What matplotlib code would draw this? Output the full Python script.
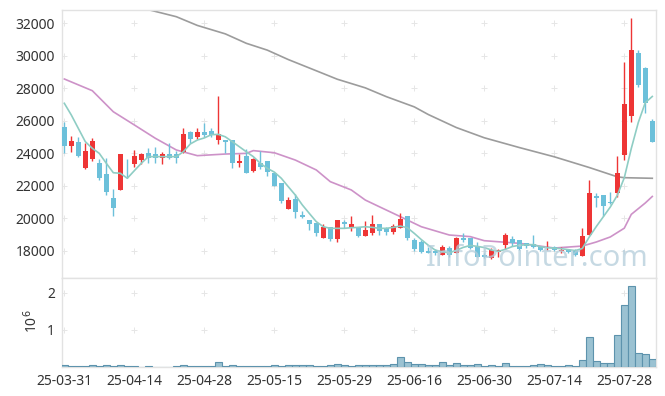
# Plotting:
import numpy as np
import matplotlib
matplotlib.use("Agg")
import matplotlib.pyplot as plt

# ===== DATA =====
tick_labels = ["25-03-31", "25-04-14", "25-04-28", "25-05-15", "25-05-29",
               "25-06-16", "25-06-30", "25-07-14", "25-07-28"]

open_ = [25600, 24470, 24700, 23120, 23640, 23430, 22730, 21260, 21750, 23410,
         23370, 23590, 24000, 23960, 23720, 23960, 23960, 24100, 25300, 24990,
         25320, 25400, 24820, 24820, 24820, 23430, 23840, 22940, 23390, 23530,
         22780, 22200, 20580, 21190, 20210, 19900, 19740, 18810, 19450, 18720,
         19800, 19390, 19390, 18940, 19090, 19640, 19390, 19180, 19390, 20150,
         18670, 18570, 18000, 18000, 17750, 18160, 17890, 18810, 18810, 18260,
         17750, 17550, 17950, 18350, 18720, 18670, 18470, 18430, 18260, 18200,
         18260, 18000, 18040, 18040, 17710, 18980, 21380, 21440, 21030, 21580,
         23900, 26300, 30160, 29230, 26010]
high = [25950, 25070, 24990, 24660, 24930, 23640, 23700, 21790, 23990, 23640,
        24210, 24000, 24310, 24410, 24100, 24620, 24160, 25580, 25380, 25540,
        25890, 25550, 27530, 24830, 24830, 23960, 24250, 23700, 24170, 23540,
        22860, 22200, 21340, 21480, 20480, 19900, 19740, 19660, 19450, 19900,
        19900, 20150, 19390, 19840, 20210, 19640, 19490, 19660, 20320, 20150,
        18780, 18700, 18260, 18100, 18370, 18300, 18830, 19090, 18810, 18570,
        17850, 18160, 18150, 19080, 18920, 18670, 18470, 18980, 18330, 18600,
        18300, 18260, 18100, 18100, 19390, 22360, 21550, 21440, 21640, 23840,
        29640, 32310, 30360, 29330, 26130]
low = [24040, 24100, 23760, 23050, 23530, 22360, 21440, 20150, 21720, 22470,
       23180, 23350, 23390, 23390, 23350, 23640, 23390, 24000, 24660, 24870,
       24990, 24990, 24580, 24040, 23080, 23140, 22800, 22840, 23020, 22610,
       22000, 20970, 20570, 20010, 20010, 19290, 18920, 18800, 18630, 18530,
       19390, 19250, 18870, 18930, 18980, 18980, 18980, 19020, 19390, 18670,
       18020, 17890, 17850, 17760, 17750, 17650, 17880, 18570, 18100, 17600,
       17560, 17500, 17600, 18100, 18300, 18050, 18160, 18170, 17990, 18080,
       18000, 17880, 17890, 17680, 17700, 18960, 20680, 20150, 20890, 21340,
       23590, 25950, 28060, 26470, 24720]
close = [24470, 24760, 23860, 24150, 24760, 22500, 21640, 20660, 23960, 23380,
         23840, 23960, 23720, 23720, 23960, 23720, 23720, 25190, 24900, 25300,
         25130, 25110, 25170, 24720, 23390, 23530, 22810, 23650, 23140, 22870,
         22010, 21070, 21130, 20380, 20070, 19640, 19090, 19450, 18720, 19900,
         19640, 19660, 18940, 19290, 19660, 19250, 19180, 19530, 19960, 18810,
         18120, 17950, 17860, 17850, 18220, 17750, 18810, 18670, 18160, 17650,
         17610, 18060, 18060, 18980, 18470, 18120, 18300, 18260, 18060, 18260,
         18060, 18060, 17950, 17750, 18920, 21580, 21240, 20760, 20930, 22810,
         27040, 30360, 28200, 27080, 24720]
# volume in millions of shares
volume = [0.045, 0.027, 0.027, 0.027, 0.045, 0.027, 0.045, 0.027, 0.045, 0.027,
          0.027, 0.010, 0.027, 0.008, 0.008, 0.010, 0.027, 0.045, 0.027, 0.027,
          0.027, 0.027, 0.134, 0.027, 0.045, 0.027, 0.027, 0.027, 0.027, 0.027,
          0.045, 0.027, 0.045, 0.045, 0.045, 0.045, 0.027, 0.027, 0.045, 0.080,
          0.054, 0.027, 0.045, 0.045, 0.045, 0.045, 0.045, 0.080, 0.268, 0.134,
          0.080, 0.080, 0.054, 0.054, 0.134, 0.054, 0.107, 0.054, 0.054, 0.080,
          0.027, 0.054, 0.027, 0.107, 0.027, 0.027, 0.027, 0.054, 0.080, 0.054,
          0.027, 0.027, 0.054, 0.027, 0.188, 0.804, 0.161, 0.107, 0.107, 0.858,
          1.662, 2.172, 0.375, 0.349, 0.214]

# moving averages
ma5 = [27080, 26360, 25540, 24720, 24310, 24000, 23390, 22810, 22775, 22470,
       22935, 23390, 23800, 23800, 23800, 23800, 23800, 24100, 24580, 24820,
       24950, 25150, 25170, 25020, 24720, 24410, 24100, 23800, 23390, 23080,
       22850, 22470, 21950, 21440, 20830, 20310, 19800, 19490, 19390, 19390,
       19390, 19430, 19450, 19490, 19450, 19390, 19390, 19450, 19530, 19430,
       19080, 18700, 18350, 18050, 17950, 17880, 18040, 18220, 18340, 18280,
       18210, 18060, 17970, 18100, 18270, 18350, 18380, 18390, 18260, 18200,
       18170, 18140, 18080, 18020, 18150, 18860, 19500, 20100, 20700, 21420,
       22500, 24300, 25900, 27120, 27500]
ma20_idx = [0, 4, 7, 10, 13, 16, 19, 23, 26, 27, 30, 33, 36, 38, 41, 43, 45, 48,
            51, 55, 58, 60, 65, 70, 74, 76, 78, 80, 81, 83, 84]
ma20 = [28575, 27855, 26560, 25750, 24930, 24210, 23860, 23960, 24000, 24170,
        24040, 23590, 22980, 22260, 21750, 21130, 20720, 20110, 19490, 18980,
        18880, 18630, 18470, 18180, 18300, 18550, 18860, 19400, 20250, 20950,
        21350]
ma120_idx = [12, 16, 19, 23, 26, 29, 32, 36, 39, 43, 46, 50, 52, 56, 60, 65, 70,
             75, 79, 80, 84]
ma120 = [32840, 32406, 31870, 31350, 30770, 30350, 29770, 29080, 28560, 28030,
         27490, 26860, 26390, 25590, 24960, 24360, 23790, 23130, 22560, 22505,
         22468]

# ===== STYLE =====
up_color = "#ee3535"
down_color = "#6cc0da"
font = ["Noto Sans", "DejaVu Sans"]
plt.rcParams["font.family"] = font

fig = plt.figure(figsize=(6.65, 3.96), dpi=100)
ax = fig.add_axes([62 / 665, 1 - 278 / 396, 594 / 665, 268 / 396])
axv = fig.add_axes([62 / 665, 1 - 367 / 396, 594 / 665, 89 / 396], sharex=ax)

x = np.arange(len(close))
o = np.array(open_)
c = np.array(close)
up = c >= o
colors = np.where(up, up_color, down_color)

# wicks and bodies
ax.vlines(x, low, high, colors=colors, linewidth=1.0, zorder=3)
body_bottom = np.minimum(o, c)
body_height = np.maximum(np.abs(c - o), 40)
ax.bar(x, body_height, bottom=body_bottom, width=0.68, color=colors,
       linewidth=0, zorder=4)

# moving averages
ax.plot(x, ma5, color="#8fcdc4", linewidth=1.2, zorder=5)
ax.plot(ma20_idx, ma20, color="#cd92c8", linewidth=1.2, zorder=2)
ax.plot(ma120_idx, ma120, color="#9c9c9c", linewidth=1.2, zorder=2)

# volume
axv.bar(x, volume, width=1.0, color="#9bc2d2", edgecolor="#5d93ad",
        linewidth=0.8, zorder=3)

ax.set_xlim(-0.33, 84.53)
ax.set_ylim(16336, 32818)
axv.set_ylim(0, 2.39)

xticks = np.arange(0, len(close), 10)
yticks = np.arange(18000, 32001, 2000)
ax.set_yticks(yticks)
ax.set_yticklabels([str(v) for v in yticks])
axv.set_yticks([1, 2])
axv.set_yticklabels(["1", "2"])
axv.set_xticks(xticks)
axv.set_xticklabels(tick_labels)
plt.setp(ax.get_xticklabels(), visible=False)

# cross-shaped grid marks
gx, gy = np.meshgrid(xticks, yticks)
ax.plot(gx.ravel(), gy.ravel(), "+", color="#e6e6e6", markersize=4,
        markeredgewidth=0.7, zorder=1)
gx, gy = np.meshgrid(xticks, [1, 2])
axv.plot(gx.ravel(), gy.ravel(), "+", color="#e6e6e6", markersize=4,
         markeredgewidth=0.7, zorder=1)

for a in (ax, axv):
    a.tick_params(length=0, labelsize=10, colors="#333333", pad=5)
    for s in a.spines.values():
        s.set_color("#e2e2e2")
        s.set_linewidth(1.0)

fig.text(32 / 665, 1 - 321 / 396, "10$^6$", rotation=90, ha="center",
         va="center", fontsize=10, color="#333333")

ax.text(0.987, 0.045, "InfoPointer.com", transform=ax.transAxes, ha="right",
        va="baseline", fontsize=21, color="#b4cdda", alpha=0.75, zorder=10,
        family=font)

plt.savefig("out.png", dpi=100)
